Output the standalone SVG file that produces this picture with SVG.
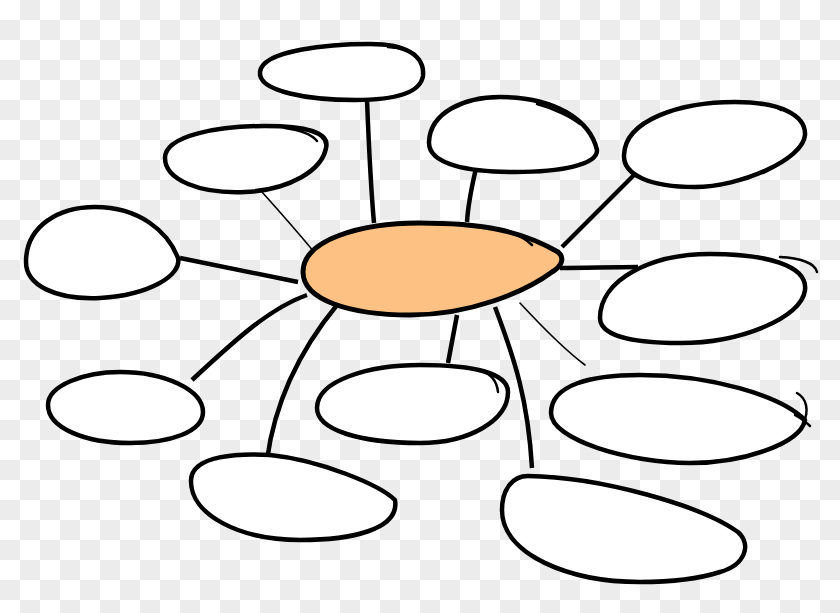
<svg xmlns="http://www.w3.org/2000/svg" width="840" height="613" viewBox="0 0 840 613">
  <defs>
    <pattern id="checker" width="40" height="40" patternUnits="userSpaceOnUse">
      <rect width="40" height="40" fill="#ffffff"/>
      <rect x="20" y="0" width="20" height="20" fill="#ececec"/>
      <rect x="0" y="20" width="20" height="20" fill="#ececec"/>
    </pattern>
  </defs>
  <style>
    .node { fill: #ffffff; stroke: #000000; stroke-width: 4.5; stroke-linejoin: round; }
    .center { fill: #fdc283; stroke: #000000; stroke-width: 5; stroke-linejoin: round; }
    .tick { fill: none; stroke: #000000; stroke-width: 2.5; stroke-linecap: round; }
    .conn { fill: none; stroke: #000000; stroke-width: 4.5; stroke-linecap: butt; }
    .thin { fill: none; stroke: #000000; stroke-width: 1.6; stroke-linecap: round; }
  </style>
  <rect width="840" height="613" fill="url(#checker)"/>

  <g id="connectors">
    <path class="conn" d="M367,100 C369,150 371,190 374,223" stroke-width="3.5"/>
    <path class="thin" d="M262,192 C280,212 300,235 315,253"/>
    <path class="conn" d="M180,258 C220,266 260,274 298,282" stroke-width="3.5"/>
    <path class="conn" d="M477,164 C472,185 468,205 467,222"/>
    <path class="conn" d="M642,167 L562,247" stroke-width="5"/>
    <path class="conn" d="M560,268 C585,268 612,267 638,267"/>
    <path class="conn" d="M192,380 C235,340 270,308 307,295"/>
    <path class="conn" d="M267,460 C275,400 300,350 337,305" stroke-width="4"/>
    <path class="conn" d="M448,363 L457,315"/>
    <path class="thin" d="M520,303 C545,330 565,350 585,365"/>
    <path class="conn" d="M495,307 C515,360 528,400 532,468" stroke-width="3.5"/>
  </g>

  <g id="node-top">
    <path class="node" d="M260,72 C262,50 330,44 370,44 C405,44 425,55 423,76 C420,95 390,100 355,100 C310,100 258,92 260,72 Z"/>
    <path class="tick" d="M388,47 C400,48 410,50 415,54"/>
  </g>

  <g id="node-upper-left">
    <path class="node" d="M165,158 C165,135 220,126 265,126 C305,126 330,132 326,148 C322,170 290,190 245,192 C200,194 165,180 165,158 Z"/>
    <path class="tick" d="M285,128 C300,130 312,135 317,141"/>
  </g>

  <g id="node-left">
    <path class="node" d="M26,262 C26,225 60,207 95,207 C140,207 168,232 178,258 C182,275 150,295 100,298 C55,300 26,285 26,262 Z"/>
  </g>

  <g id="node-top-middle">
    <path class="node" d="M429,142 C430,112 465,97 500,97 C555,97 590,120 597,150 C598,165 560,172 515,172 C470,172 428,165 429,142 Z"/>
    <path class="tick" d="M537,104 C552,108 570,116 580,124"/>
  </g>

  <g id="node-top-right">
    <path class="node" d="M624,155 C625,120 680,102 735,102 C780,102 806,115 805,135 C803,160 740,187 695,187 C650,187 623,175 624,155 Z"/>
    <path class="tick" d="M760,104 C770,105 778,107 781,110"/>
  </g>

  <g id="node-right">
    <path class="node" d="M600,318 C600,280 650,254 710,254 C765,254 808,265 805,290 C802,318 740,343 680,343 C630,343 600,335 600,318 Z"/>
    <path class="tick" d="M780,257 C800,258 815,263 817,272"/>
  </g>

  <g id="node-center">
    <path class="center" d="M303,272 C303,240 360,223 420,223 C480,223 520,230 558,252 C565,258 562,266 552,272 C525,292 470,315 410,315 C350,315 303,300 303,272 Z"/>
    <path class="tick" d="M508,232 C518,235 527,240 532,245"/>
  </g>

  <g id="node-lower-left">
    <path class="node" d="M48,405 C48,385 85,372 120,372 C165,372 203,390 203,412 C203,432 170,443 130,443 C85,443 48,428 48,405 Z"/>
  </g>

  <g id="node-lower-middle">
    <path class="node" d="M317,408 C317,380 370,365 420,365 C470,365 508,372 508,392 C508,420 470,443 420,443 C360,443 317,430 317,408 Z"/>
    <path class="tick" d="M480,370 C492,374 497,382 498,392"/>
  </g>

  <g id="node-lower-right">
    <path class="node" d="M551,413 C551,385 590,375 640,375 C710,375 780,395 805,420 C800,445 740,463 690,463 C630,463 551,440 551,413 Z"/>
    <path class="tick" d="M797,393 C806,398 810,410 803,424"/>
    <path class="tick" d="M795,415 C802,419 807,423 810,426"/>
  </g>

  <g id="node-bottom-left">
    <path class="node" d="M191,480 C192,455 240,453 270,455 C320,460 380,485 395,500 C400,530 350,540 300,540 C240,540 190,515 191,480 Z"/>
  </g>

  <g id="node-bottom-right">
    <path class="node" d="M502,510 C502,490 512,476 528,476 C600,477 700,505 738,532 C752,545 745,565 720,572 C695,580 670,582 640,582 C570,582 502,555 502,510 Z"/>
  </g>
</svg>
